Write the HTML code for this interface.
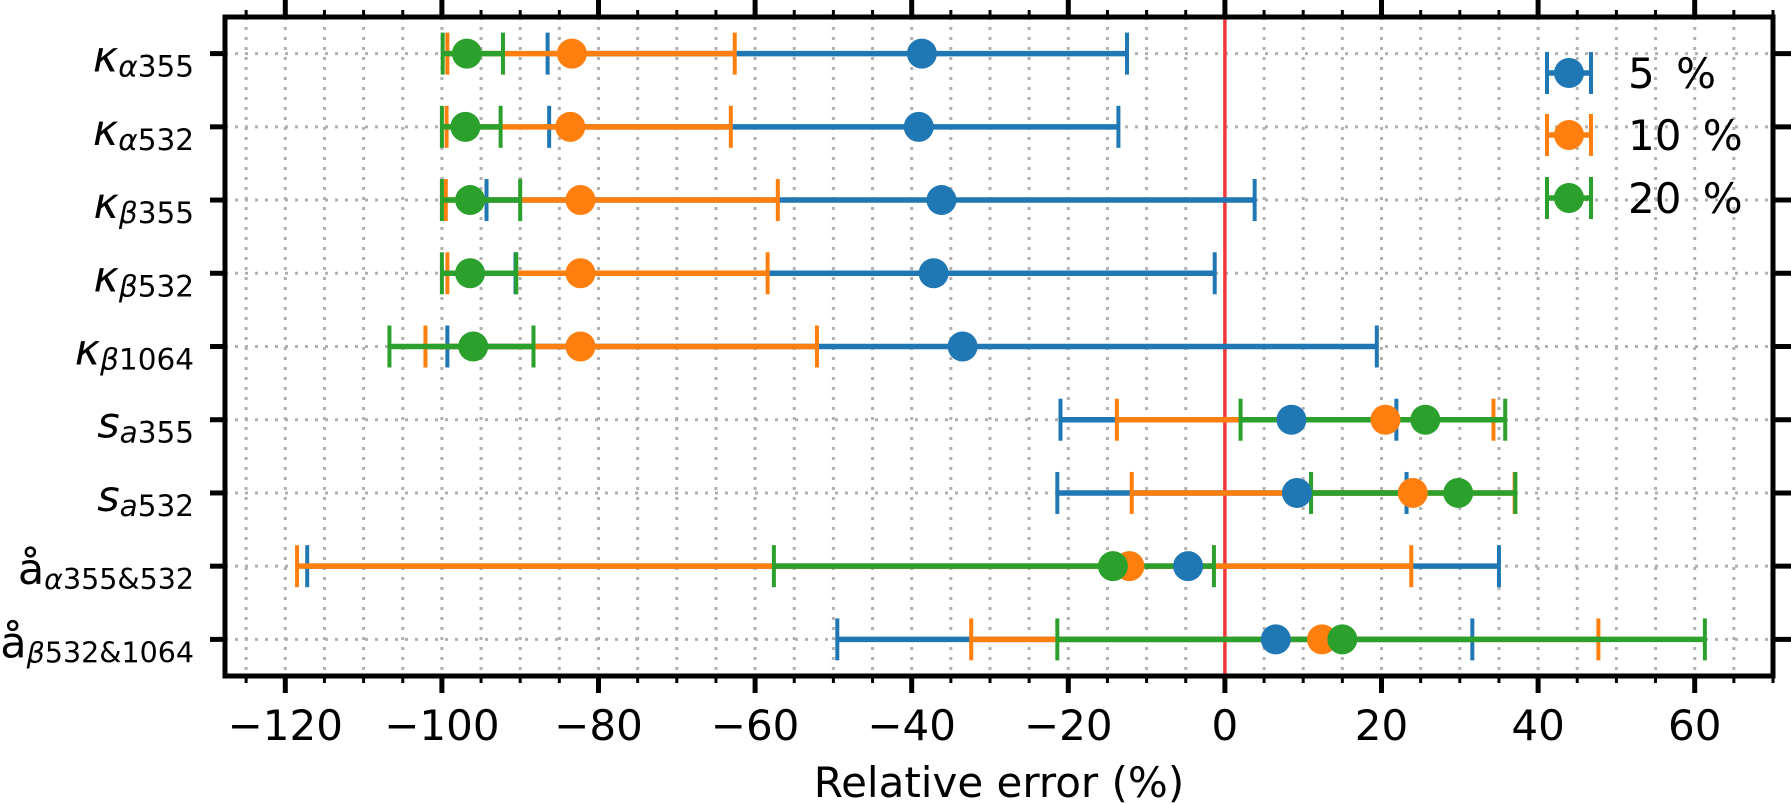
<!DOCTYPE html>
<html><head><meta charset="utf-8"><style>
html,body{margin:0;padding:0;background:#fff;}
svg{display:block;font-family:"DejaVu Sans","Liberation Sans",sans-serif;}
</style></head><body>
<svg id="chart" width="1791" height="804" viewBox="0 0 1791 804" xmlns="http://www.w3.org/2000/svg">
<g id="grid"></g>
<g id="zero"></g>
<g id="bars"></g>
<g id="marks"></g>
<g id="axes"></g>
<g id="legend"></g>
</svg>
<script>
const categories = ["ka355","ka532","kb355","kb532","kb1064","sa355","sa532","aa","ab"];
const seriesNames = ["5 %","10 %","20 %"];
const center5  = [-38.7,-39.1,-36.2,-37.2,-33.5,8.5,9.2,-4.7,6.5];
const lower5   = [-86.5,-86.3,-94.3,-90.6,-99.3,-21.0,-21.4,-117.2,-49.5];
const upper5   = [-12.5,-13.6,3.8,-1.3,19.4,21.9,23.2,35.0,31.6];
const center10 = [-83.4,-83.6,-82.3,-82.3,-82.3,20.5,24.0,-12.2,12.4];
const lower10  = [-99.3,-99.4,-99.5,-99.3,-102.1,-13.8,-11.9,-118.5,-32.4];
const upper10  = [-62.6,-63.1,-57.1,-58.4,-52.1,34.3,37.0,23.8,47.7];
const center20 = [-96.8,-97.0,-96.4,-96.4,-96.0,25.6,29.8,-14.3,15.0];
const lower20  = [-99.9,-100.0,-100.0,-100.0,-106.7,2.0,11.0,-57.6,-21.4];
const upper20  = [-92.2,-92.5,-90.0,-90.5,-88.3,35.8,37.1,-1.4,61.3];
const xTicks = [-120,-100,-80,-60,-40,-20,0,20,40,60];
const xTickLabels = ["\u2212120","\u2212100","\u221280","\u221260","\u221240","\u221220","0","20","40","60"];

const NS="http://www.w3.org/2000/svg";
const L=225,R=1773,T=17,B=676;
const X0=-127.7,X1=70;
const x=v=>L+(v-X0)/(X1-X0)*(R-L);
const y=i=>T+(i+0.5)*(B-T)/categories.length;
const colors=["#1f77b4","#ff7f0e","#2ca02c"];
const series=[[center5,lower5,upper5],[center10,lower10,upper10],[center20,lower20,upper20]];
function mk(tag,attrs,parent){const e=document.createElementNS(NS,tag);for(const k in attrs)e.setAttribute(k,attrs[k]);parent.appendChild(e);return e;}
const grid=document.getElementById('grid'),axes=document.getElementById('axes'),bars=document.getElementById('bars'),marks=document.getElementById('marks'),zero=document.getElementById('zero'),legend=document.getElementById('legend');

for(let v=-125;v<=70;v+=5){const e=mk('line',{x1:x(v),x2:x(v),y1:T,y2:B,stroke:'#b0b0b0','stroke-width':3,'stroke-dasharray':'3,7'},grid);

}
categories.forEach((c,i)=>{const e=mk('line',{x1:L,x2:R,y1:y(i),y2:y(i),stroke:'#b0b0b0','stroke-width':3,'stroke-dasharray':'3,7'},grid);

});
const zl=mk('line',{x1:x(0),x2:x(0),y1:T,y2:B,stroke:'#f03838','stroke-width':3.5},zero);



series.forEach((s,k)=>{categories.forEach((c,i)=>{
  const cy=y(i);
  const ln=mk('line',{x1:x(s[1][i]),x2:x(s[2][i]),y1:cy,y2:cy,stroke:colors[k],'stroke-width':5.5},bars);
  
  
  [s[1][i],s[2][i]].forEach(v=>{const cp=mk('line',{x1:x(v),x2:x(v),y1:cy-21,y2:cy+21,stroke:colors[k],'stroke-width':4},bars);
  
  });
});});
series.forEach((s,k)=>{categories.forEach((c,i)=>{
  const m=mk('circle',{cx:x(s[0][i]),cy:y(i),r:15,fill:colors[k]},marks);
  
  
});});

const fr=mk('rect',{x:L,y:T,width:R-L,height:B-T,fill:'none',stroke:'#000','stroke-width':5},axes);


for(let v=-125;v<=70;v+=5){const major=xTicks.indexOf(v)>=0;const len=major?17:7;const w=major?5:3;
 const t1=mk('line',{x1:x(v),x2:x(v),y1:B,y2:B+len,stroke:'#000','stroke-width':w},axes);
 
 
 const t2=mk('line',{x1:x(v),x2:x(v),y1:T,y2:T-len,stroke:'#000','stroke-width':w},axes);
 
 }
xTicks.forEach((v,j)=>{const t=mk('text',{x:x(v),y:740,'text-anchor':'middle','font-size':42,fill:'#000'},axes);t.textContent=xTickLabels[j];
 
 });
const xl=mk('text',{x:(L+R)/2,y:797,'text-anchor':'middle','font-size':42,fill:'#000'},axes);xl.textContent='Relative error (%)';


categories.forEach((c,i)=>{
 const a=mk('line',{x1:L-15,x2:L,y1:y(i),y2:y(i),stroke:'#000','stroke-width':5},axes);
 
 
 const b=mk('line',{x1:R,x2:R+18,y1:y(i),y2:y(i),stroke:'#000','stroke-width':5},axes);
 
 
});
const labelParts=[["κ","α","355"],["κ","α","532"],["κ","β","355"],["κ","β","532"],["κ","β","1064"],["s","a","355"],["s","a","532"],["å","α","355&532"],["å","β","532&1064"]];
labelParts.forEach((p,i)=>{
 const t=mk('text',{x:194,y:y(i)+18,'text-anchor':'end','font-size':43,fill:'#000'},axes);
 
 
 const a=mk('tspan',{'font-style':p[0]==='å'?'normal':'italic'},t);a.textContent=p[0];
 const b=mk('tspan',{'font-style':'italic','font-size':p[0]==='å'?28.5:29.5,dy:5},t);b.textContent=p[1];
 const d=mk('tspan',{'font-size':p[0]==='å'?28.5:29.5},t);d.textContent=p[2];
});
const legY=[73,135,198];
seriesNames.forEach((n,k)=>{
 const g=mk('g',{},legend);
 
 
 mk('line',{x1:1547,x2:1591,y1:legY[k],y2:legY[k],stroke:colors[k],'stroke-width':5.5},g);
 mk('line',{x1:1547,x2:1547,y1:legY[k]-21,y2:legY[k]+21,stroke:colors[k],'stroke-width':4},g);
 mk('line',{x1:1591,x2:1591,y1:legY[k]-21,y2:legY[k]+21,stroke:colors[k],'stroke-width':4},g);
 mk('circle',{cx:1569,cy:legY[k],r:15,fill:colors[k]},g);
 const t=mk('text',{x:1628,y:legY[k]+15,'font-size':42,fill:'#000','word-spacing':8},g);
 t.textContent=n;
});
</script>
</body></html>
